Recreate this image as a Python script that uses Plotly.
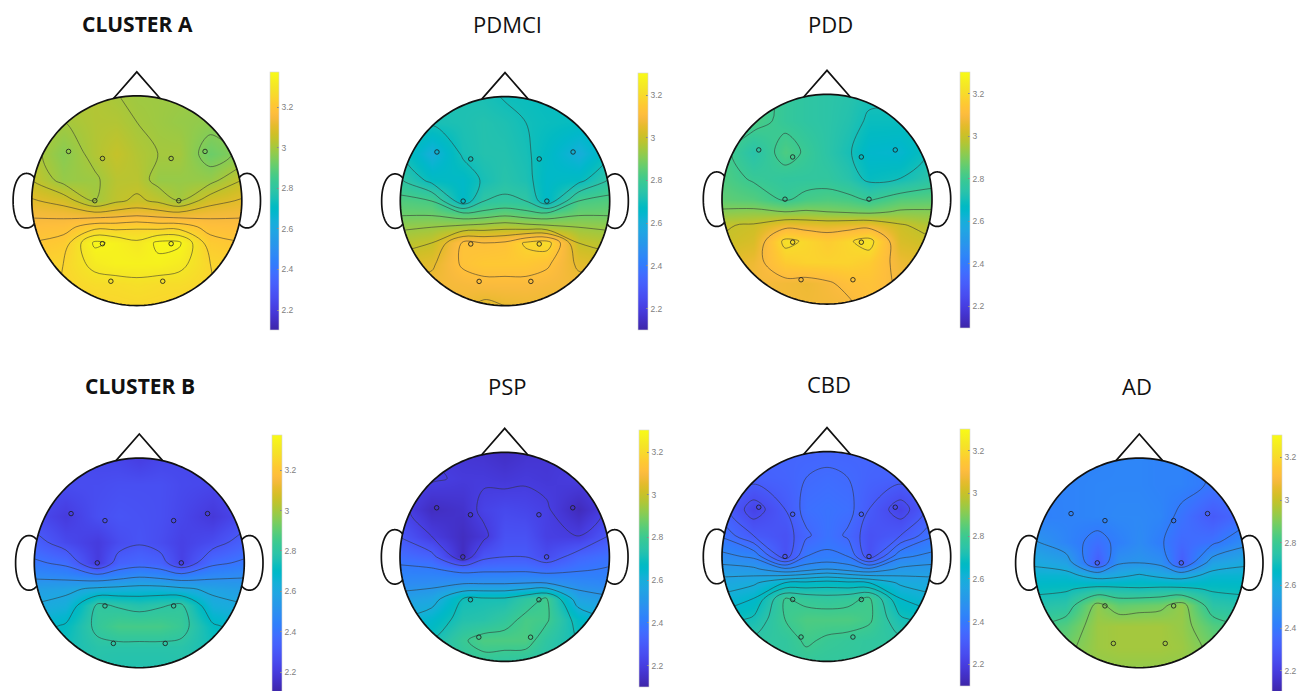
import numpy as np
import plotly.graph_objects as go

panels = ["CLUSTER A", "PDMCI", "PDD", "CLUSTER B", "PSP", "CBD", "AD"]
grid_x = [-1.05, -0.7, -0.4, -0.2, 0, 0.2, 0.4, 0.7, 1.05]
grid_y = [1.05, 0.75, 0.45, 0.2, 0, -0.12, -0.25, -0.4, -0.6, -0.8, -1.05]
elec_x = [-0.65, -0.327, 0.327, 0.65, -0.4, 0.4, -0.327, 0.327, -0.247, 0.247]
elec_y = [0.47, 0.403, 0.403, 0.47, 0, 0, -0.41, -0.41, -0.768, -0.768]
tick_vals = [2.2, 2.4, 2.6, 2.8, 3, 3.2]
tick_text = ["2.2", "2.4", "2.6", "2.8", "3", "3.2"]

z_cluster_a = [
    [3.02, 3.02, 3.02, 3.00, 2.99, 2.99, 2.99, 2.98, 2.98],
    [3.02, 3.00, 3.02, 3.02, 3.00, 2.99, 2.98, 2.97, 2.98],
    [3.03, 2.96, 3.02, 3.05, 3.02, 3.00, 3.00, 2.92, 2.97],
    [3.06, 2.98, 2.99, 3.03, 3.03, 2.98, 2.98, 2.98, 3.06],
    [3.11, 3.08, 3.00, 3.04, 3.06, 3.04, 3.00, 3.08, 3.11],
    [3.14, 3.13, 3.11, 3.12, 3.13, 3.12, 3.11, 3.13, 3.14],
    [3.17, 3.18, 3.23, 3.23, 3.24, 3.23, 3.23, 3.18, 3.17],
    [3.20, 3.22, 3.36, 3.34, 3.31, 3.36, 3.36, 3.22, 3.20],
    [3.23, 3.25, 3.32, 3.34, 3.34, 3.34, 3.32, 3.25, 3.23],
    [3.24, 3.25, 3.27, 3.27, 3.28, 3.27, 3.27, 3.25, 3.24],
    [3.22, 3.22, 3.24, 3.25, 3.25, 3.25, 3.24, 3.22, 3.22],
]
z_pdmci = [
    [2.73, 2.73, 2.72, 2.71, 2.69, 2.69, 2.68, 2.68, 2.68],
    [2.73, 2.71, 2.72, 2.73, 2.72, 2.70, 2.69, 2.68, 2.69],
    [2.73, 2.60, 2.71, 2.73, 2.73, 2.71, 2.67, 2.60, 2.71],
    [2.78, 2.68, 2.66, 2.71, 2.74, 2.72, 2.66, 2.68, 2.78],
    [2.84, 2.82, 2.66, 2.76, 2.77, 2.76, 2.66, 2.82, 2.84],
    [2.87, 2.87, 2.83, 2.84, 2.86, 2.84, 2.83, 2.87, 2.87],
    [2.93, 2.94, 2.96, 2.97, 2.98, 2.97, 2.96, 2.94, 2.93],
    [2.97, 3.00, 3.13, 3.12, 3.13, 3.19, 3.21, 3.00, 2.97],
    [3.03, 3.05, 3.13, 3.15, 3.15, 3.15, 3.13, 3.05, 3.03],
    [3.07, 3.08, 3.09, 3.10, 3.10, 3.10, 3.09, 3.08, 3.07],
    [3.08, 3.08, 3.07, 3.03, 3.05, 3.06, 3.06, 3.08, 3.08],
]
z_pdd = [
    [2.84, 2.83, 2.78, 2.76, 2.75, 2.74, 2.72, 2.72, 2.72],
    [2.84, 2.83, 2.78, 2.76, 2.75, 2.73, 2.69, 2.69, 2.72],
    [2.84, 2.74, 2.83, 2.79, 2.75, 2.71, 2.65, 2.64, 2.72],
    [2.84, 2.79, 2.77, 2.77, 2.77, 2.74, 2.68, 2.70, 2.76],
    [2.86, 2.84, 2.79, 2.82, 2.83, 2.82, 2.79, 2.84, 2.85],
    [2.91, 2.92, 2.90, 2.91, 2.90, 2.89, 2.88, 2.91, 2.91],
    [2.99, 3.01, 3.07, 3.06, 3.05, 3.06, 3.07, 3.01, 2.96],
    [3.00, 3.03, 3.22, 3.19, 3.16, 3.19, 3.23, 3.03, 3.00],
    [3.04, 3.07, 3.16, 3.18, 3.18, 3.18, 3.16, 3.07, 3.04],
    [3.08, 3.09, 3.08, 3.07, 3.09, 3.12, 3.13, 3.09, 3.08],
    [3.07, 3.07, 3.08, 3.08, 3.08, 3.08, 3.12, 3.10, 3.10],
]
z_cluster_b = [
    [2.26, 2.26, 2.24, 2.23, 2.20, 2.23, 2.24, 2.25, 2.26],
    [2.27, 2.26, 2.26, 2.27, 2.27, 2.27, 2.25, 2.24, 2.27],
    [2.27, 2.20, 2.27, 2.29, 2.28, 2.27, 2.24, 2.19, 2.27],
    [2.35, 2.25, 2.20, 2.26, 2.29, 2.26, 2.22, 2.26, 2.35],
    [2.42, 2.38, 2.20, 2.34, 2.36, 2.34, 2.22, 2.38, 2.42],
    [2.48, 2.46, 2.42, 2.45, 2.48, 2.46, 2.43, 2.47, 2.49],
    [2.56, 2.58, 2.62, 2.63, 2.64, 2.64, 2.62, 2.58, 2.55],
    [2.60, 2.63, 2.81, 2.79, 2.77, 2.79, 2.81, 2.63, 2.60],
    [2.66, 2.71, 2.82, 2.86, 2.86, 2.86, 2.83, 2.71, 2.66],
    [2.72, 2.74, 2.78, 2.78, 2.78, 2.78, 2.78, 2.74, 2.72],
    [2.77, 2.77, 2.77, 2.76, 2.76, 2.76, 2.77, 2.77, 2.77],
]
z_psp = [
    [2.20, 2.19, 2.17, 2.16, 2.14, 2.16, 2.17, 2.19, 2.20],
    [2.22, 2.21, 2.19, 2.19, 2.18, 2.19, 2.18, 2.20, 2.22],
    [2.24, 2.14, 2.16, 2.22, 2.24, 2.23, 2.21, 2.13, 2.23],
    [2.31, 2.20, 2.14, 2.18, 2.27, 2.27, 2.21, 2.20, 2.31],
    [2.37, 2.33, 2.14, 2.28, 2.30, 2.30, 2.25, 2.34, 2.38],
    [2.42, 2.41, 2.37, 2.38, 2.38, 2.38, 2.36, 2.39, 2.41],
    [2.46, 2.47, 2.49, 2.49, 2.49, 2.50, 2.50, 2.46, 2.44],
    [2.53, 2.56, 2.70, 2.71, 2.71, 2.76, 2.81, 2.55, 2.51],
    [2.60, 2.65, 2.73, 2.74, 2.77, 2.82, 2.81, 2.67, 2.60],
    [2.68, 2.70, 2.79, 2.83, 2.83, 2.83, 2.76, 2.70, 2.67],
    [2.73, 2.73, 2.76, 2.76, 2.75, 2.74, 2.74, 2.73, 2.73],
]
z_cbd = [
    [2.33, 2.33, 2.34, 2.33, 2.33, 2.33, 2.34, 2.33, 2.33],
    [2.33, 2.32, 2.33, 2.35, 2.36, 2.35, 2.33, 2.32, 2.33],
    [2.34, 2.22, 2.30, 2.37, 2.38, 2.37, 2.30, 2.22, 2.34],
    [2.40, 2.30, 2.27, 2.34, 2.38, 2.34, 2.27, 2.30, 2.40],
    [2.47, 2.44, 2.27, 2.40, 2.41, 2.40, 2.27, 2.44, 2.47],
    [2.52, 2.51, 2.46, 2.48, 2.50, 2.48, 2.46, 2.51, 2.52],
    [2.57, 2.59, 2.65, 2.66, 2.67, 2.66, 2.65, 2.59, 2.57],
    [2.61, 2.65, 2.80, 2.78, 2.77, 2.78, 2.81, 2.65, 2.61],
    [2.67, 2.71, 2.80, 2.83, 2.83, 2.83, 2.81, 2.71, 2.67],
    [2.75, 2.76, 2.77, 2.81, 2.79, 2.78, 2.77, 2.76, 2.75],
    [2.77, 2.77, 2.77, 2.77, 2.77, 2.77, 2.77, 2.77, 2.77],
]
z_ad = [
    [2.43, 2.43, 2.43, 2.44, 2.44, 2.43, 2.43, 2.39, 2.39],
    [2.43, 2.43, 2.44, 2.44, 2.44, 2.43, 2.43, 2.39, 2.39],
    [2.42, 2.43, 2.44, 2.45, 2.45, 2.44, 2.38, 2.30, 2.37],
    [2.52, 2.44, 2.37, 2.42, 2.46, 2.41, 2.35, 2.38, 2.48],
    [2.59, 2.55, 2.31, 2.49, 2.50, 2.48, 2.31, 2.55, 2.59],
    [2.63, 2.63, 2.56, 2.58, 2.61, 2.58, 2.56, 2.63, 2.63],
    [2.68, 2.69, 2.73, 2.72, 2.71, 2.72, 2.72, 2.69, 2.68],
    [2.73, 2.75, 2.92, 2.86, 2.87, 2.88, 2.93, 2.75, 2.73],
    [2.79, 2.84, 2.94, 2.95, 2.95, 2.95, 2.93, 2.84, 2.79],
    [2.85, 2.88, 2.94, 2.95, 2.95, 2.95, 2.94, 2.88, 2.85],
    [2.90, 2.90, 2.92, 2.92, 2.92, 2.92, 2.92, 2.90, 2.90],
]
values = [z_cluster_a, z_pdmci, z_pdd, z_cluster_b, z_psp, z_cbd, z_ad]

W, H = 1311, 691
geom = [
    dict(cx=136.8, cy=201.0, r=105, bx=269.5, bw=9, bt=72.3, bb=330, zmax=3.373, start=2.95, size=0.05, tx=137, ty=24, bold=True),
    dict(cx=505.0, cy=201.4, r=104.7, bx=638.3, bw=9.5, bt=73, bb=330, zmax=3.303, start=2.7, size=0.06, tx=508, ty=24, bold=False),
    dict(cx=827.0, cy=199.5, r=105, bx=960, bw=10, bt=71.7, bb=328, zmax=3.303, start=2.7, size=0.1, tx=830, ty=24, bold=False),
    dict(cx=139.3, cy=563.7, r=105, bx=272, bw=9.5, bt=435.3, bb=692, zmax=3.373, start=2.3, size=0.1, tx=140, ty=387, bold=True),
    dict(cx=504.7, cy=557.7, r=104.7, bx=639, bw=9.5, bt=430, bb=686.7, zmax=3.303, start=2.2, size=0.1, tx=508, ty=387, bold=False),
    dict(cx=827.0, cy=557.3, r=105, bx=960, bw=10, bt=428.7, bb=686, zmax=3.303, start=2.25, size=0.05, tx=829, ty=385, bold=False),
    dict(cx=1139.3, cy=563.7, r=105, bx=1272, bw=10, bt=435.3, bb=692, zmax=3.303, start=2.4, size=0.1, tx=1137, ty=387, bold=False),
]

parula = [
    (0.2422, 0.1504, 0.6603), (0.2504, 0.1650, 0.7076), (0.2578, 0.1818, 0.7511), (0.2647, 0.1978, 0.7952),
    (0.2706, 0.2147, 0.8364), (0.2751, 0.2342, 0.8710), (0.2783, 0.2559, 0.8991), (0.2803, 0.2782, 0.9221),
    (0.2813, 0.3006, 0.9414), (0.2810, 0.3228, 0.9579), (0.2795, 0.3447, 0.9717), (0.2760, 0.3667, 0.9829),
    (0.2699, 0.3892, 0.9906), (0.2602, 0.4123, 0.9952), (0.2440, 0.4358, 0.9988), (0.2206, 0.4603, 0.9973),
    (0.1963, 0.4847, 0.9892), (0.1834, 0.5074, 0.9798), (0.1786, 0.5289, 0.9682), (0.1764, 0.5499, 0.9520),
    (0.1687, 0.5703, 0.9359), (0.1540, 0.5902, 0.9218), (0.1460, 0.6091, 0.9079), (0.1380, 0.6276, 0.8973),
    (0.1248, 0.6459, 0.8883), (0.1113, 0.6635, 0.8763), (0.0952, 0.6798, 0.8598), (0.0689, 0.6948, 0.8394),
    (0.0297, 0.7082, 0.8163), (0.0036, 0.7203, 0.7917), (0.0067, 0.7312, 0.7660), (0.0433, 0.7411, 0.7394),
    (0.0964, 0.7500, 0.7120), (0.1408, 0.7584, 0.6842), (0.1717, 0.7670, 0.6554), (0.1938, 0.7758, 0.6251),
    (0.2161, 0.7843, 0.5923), (0.2470, 0.7918, 0.5567), (0.2906, 0.7973, 0.5188), (0.3406, 0.8008, 0.4789),
    (0.3909, 0.8029, 0.4354), (0.4456, 0.8024, 0.3909), (0.5044, 0.7993, 0.3480), (0.5616, 0.7942, 0.3045),
    (0.6174, 0.7876, 0.2612), (0.6720, 0.7793, 0.2227), (0.7242, 0.7698, 0.1910), (0.7738, 0.7598, 0.1646),
    (0.8203, 0.7498, 0.1535), (0.8634, 0.7406, 0.1596), (0.9035, 0.7330, 0.1774), (0.9393, 0.7288, 0.2100),
    (0.9728, 0.7298, 0.2394), (0.9956, 0.7434, 0.2371), (0.9970, 0.7659, 0.2199), (0.9952, 0.7861, 0.1986),
    (0.9892, 0.8137, 0.1885), (0.9786, 0.8394, 0.1778), (0.9676, 0.8651, 0.1651), (0.9610, 0.8903, 0.1537),
    (0.9597, 0.9135, 0.1423), (0.9628, 0.9373, 0.1265), (0.9691, 0.9606, 0.1064), (0.9769, 0.9839, 0.0805),
]
scale = [[i / (len(parula) - 1), "rgb(%d,%d,%d)" % tuple(round(c * 255) for c in p)]
         for i, p in enumerate(parula)]

X0, X1, Y0, Y1 = -1.25, 1.25, -1.2, 1.3
theta = np.linspace(0, 2 * np.pi, 181)


def poly(xs, ys, close=True):
    s = "M " + " L ".join(f"{a:.4f},{b:.4f}" for a, b in zip(xs, ys))
    return s + (" Z" if close else "")


circle_path = poly(np.cos(theta), np.sin(theta))
mask_path = poly([X0 - 1, X1 + 1, X1 + 1, X0 - 1], [Y0 - 1, Y0 - 1, Y1 + 1, Y1 + 1]) + " " + circle_path
nose_path = poly([-0.222, 0, 0.222], [0.975, 1.229, 0.975], close=False)
ear_t = np.linspace(0, 2 * np.pi, 241)
ear_xl = -1.05 + 0.128 * np.sign(np.cos(ear_t)) * np.abs(np.cos(ear_t)) ** 0.92
ear_yl = 0.26 * np.sign(np.sin(ear_t)) * np.abs(np.sin(ear_t)) ** 0.92
keep = ear_xl ** 2 + ear_yl ** 2 >= 0.99
ear_l = poly(ear_xl[keep], ear_yl[keep], close=False)
ear_r = poly(-ear_xl[keep], ear_yl[keep], close=False)

fig = go.Figure()
shapes, annotations = [], []
axes = {}
for i, (name, z, g) in enumerate(zip(panels, values, geom)):
    n = "" if i == 0 else str(i + 1)
    xa, ya = "x" + n, "y" + n
    r = g["r"]
    axes["xaxis" + n] = dict(domain=[(g["cx"] + X0 * r) / W, (g["cx"] + X1 * r) / W], range=[X0, X1],
                             visible=False, fixedrange=True)
    axes["yaxis" + n] = dict(domain=[1 - (g["cy"] - Y0 * r) / H, 1 - (g["cy"] - Y1 * r) / H], range=[Y0, Y1],
                             visible=False, fixedrange=True)
    fig.add_trace(go.Heatmap(
        x=grid_x, y=grid_y, z=z, xaxis=xa, yaxis=ya, zsmooth="best",
        colorscale=scale, zmin=2.1, zmax=g["zmax"], hoverinfo="skip",
        colorbar=dict(
            x=g["bx"] / W, xanchor="left", xpad=0, ypad=0, y=1 - g["bt"] / H, yanchor="top",
            lenmode="fraction", len=(g["bb"] - g["bt"]) / H, thickness=g["bw"], thicknessmode="pixels",
            outlinecolor="#d5d5d5", outlinewidth=0.6, tickmode="array", tickvals=tick_vals, ticktext=tick_text,
            ticks="inside", ticklen=2, tickwidth=0.6, tickcolor="#888888",
            tickfont=dict(family="Liberation Sans", size=8.5, color="#808080"),
        ),
    ))
    fig.add_trace(go.Contour(
        x=grid_x, y=grid_y, z=z, xaxis=xa, yaxis=ya, showscale=False, hoverinfo="skip",
        contours=dict(coloring="none", start=g["start"], end=3.4, size=g["size"]),
        line=dict(color="rgba(50,50,50,0.55)", width=1, smoothing=1),
    ))
    fig.add_trace(go.Scatter(
        x=elec_x, y=elec_y, xaxis=xa, yaxis=ya, mode="markers", hoverinfo="skip", showlegend=False,
        marker=dict(symbol="circle-open", size=4.5, color="rgba(30,30,30,0.85)", line=dict(width=1)),
    ))
    shapes.append(dict(type="path", xref=xa, yref=ya, path=mask_path, fillcolor="white",
                       fillrule="evenodd", line=dict(width=0), layer="above"))
    for p in (circle_path, nose_path, ear_l, ear_r):
        shapes.append(dict(type="path", xref=xa, yref=ya, path=p, line=dict(color="#111111", width=1.7), layer="above"))
    annotations.append(dict(
        text=f"<b>{name}</b>" if g["bold"] else name, xref="paper", yref="paper",
        x=g["tx"] / W, y=1 - g["ty"] / H, xanchor="center", yanchor="middle", showarrow=False,
        font=dict(family="Open Sans", size=21 if g["bold"] else 22, color="#111111"),
    ))

fig.update_layout(width=W, height=H, margin=dict(l=0, r=0, t=0, b=0), paper_bgcolor="white",
                  plot_bgcolor="white", showlegend=False, shapes=shapes, annotations=annotations, **axes)
fig.write_html("out.html", config=dict(displayModeBar=False),
               post_script="document.body.style.margin='0';document.documentElement.style.overflow='hidden';")
